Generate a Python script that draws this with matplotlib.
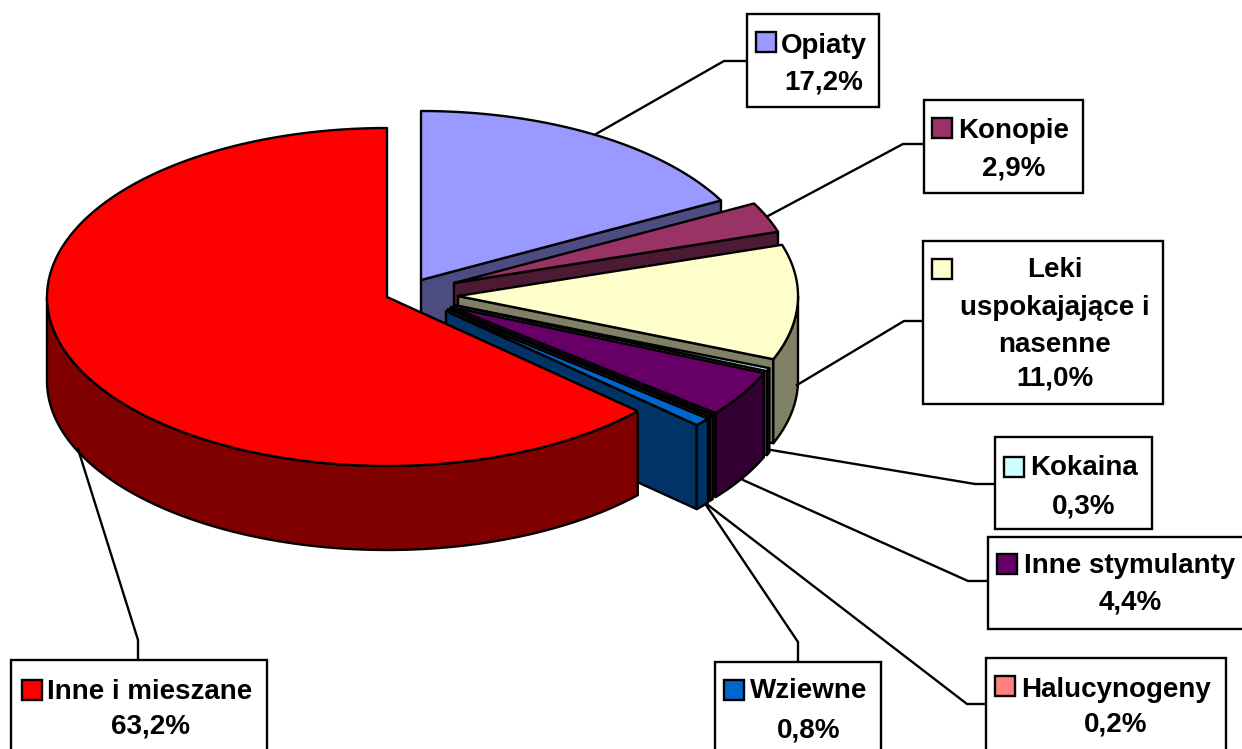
import numpy as np
import matplotlib
matplotlib.use("Agg")
import matplotlib.pyplot as plt
from matplotlib.patches import Polygon, Rectangle

# Data, clockwise from 12 o'clock
labels = ["Opiaty", "Konopie", "Leki\nuspokajające i\nnasenne", "Kokaina",
          "Inne stymulanty", "Halucynogeny", "Wziewne", "Inne i mieszane"]
values = [17.2, 2.9, 11.0, 0.3, 4.4, 0.2, 0.8, 63.2]

# Styles
top_colors = ["#9999FF", "#993366", "#FFFFCC", "#CCFFFF", "#660066", "#FF8080", "#0066CC", "#FF0000"]
side_colors = ["#4C4C80", "#4D1933", "#808066", "#668080", "#330033", "#804040", "#003366", "#800000"]

# Layout (pixel space)
CX, CY, RX, RY, DEPTH = 387, 297, 340, 169, 84
explode_dx = [34, 67, 71, 67, 64, 61, 59, 0]
explode_dy = [-17, -14, -1, 8, 10, 12, 14, 0]
boxes = [(747, 14, 879, 107), (924, 100, 1083, 193), (923, 241, 1163, 404), (995, 437, 1152, 529),
         (988, 537, 1246, 629), (986, 658, 1226, 756), (715, 662, 881, 756), (11, 660, 267, 756)]
keys = [(756, 32), (932, 118), (932, 259), (1004, 457), (997, 554), (995, 676), (724, 680), (22, 680)]
text_x = [824, 1014, 1055, 1084, 1130, 1116, 809, 150]
name_y = [[43], [128], [267, 305, 342], [465], [563], [687], [688], [689]]
pct_y = [79, 165, 376, 503, 600, 722, 727, 724]
leaders = [
    [(596, 134), (724, 61), (747, 61)],
    [(768, 216), (903, 144), (924, 144)],
    [(797, 385), (904, 321), (923, 321)],
    [(771, 450), (975, 484), (995, 484)],
    [(743, 480), (968, 581), (988, 581)],
    [(708, 505), (967, 704), (986, 704)],
    [(706, 505), (798, 642), (798, 662)],
    [(78, 449), (138, 640), (138, 660)],
]

LW = 1.7
plt.rcParams["font.family"] = ["Liberation Sans", "DejaVu Sans"]
fig = plt.figure(figsize=(12.42, 7.49), dpi=100, facecolor="white")
ax = fig.add_axes([0, 0, 1, 1])
ax.set_xlim(0, 1242)
ax.set_ylim(749, 0)
ax.axis("off")


def rim_points(cx, cy, a, b, n=120):
    t = np.radians(np.linspace(a, b, n))
    return np.column_stack([cx + RX * np.sin(t), cy - RY * np.cos(t)])


def poly(pts, fc, z):
    ax.add_patch(Polygon(pts, closed=True, facecolor=fc, edgecolor="black",
                         linewidth=LW, joinstyle="round", zorder=z))


edges = np.cumsum([0] + values) / sum(values) * 360
for i, v in enumerate(values):
    a, b = edges[i], edges[i + 1]
    cx, cy = CX + explode_dx[i], CY + explode_dy[i]
    z = 2 + i
    # cut face visible on the clockwise end of slices on the right half
    if b < 180:
        end = rim_points(cx, cy, b, b, 1)[0]
        poly([(cx, cy), end, (end[0], end[1] + DEPTH), (cx, cy + DEPTH)], side_colors[i], z)
    # outer wall, only the part that faces the viewer
    lo, hi = max(a, 90), min(b, 270)
    if hi > lo:
        arc = rim_points(cx, cy, lo, hi)
        low = arc[::-1] + np.array([0, DEPTH])
        poly(np.vstack([arc, low]), side_colors[i], z)
    # top surface
    poly(np.vstack([[(cx, cy)], rim_points(cx, cy, a, b)]), top_colors[i], z)

for i, lab in enumerate(labels):
    ax.plot(*zip(*leaders[i]), color="black", lw=LW, zorder=20, solid_joinstyle="miter")
    x0, y0, x1, y1 = boxes[i]
    ax.add_patch(Rectangle((x0, y0), x1 - x0, y1 - y0, facecolor="white", edgecolor="black",
                           linewidth=LW, zorder=21))
    kx, ky = keys[i]
    ax.add_patch(Rectangle((kx, ky), 20, 20, facecolor=top_colors[i], edgecolor="black",
                           linewidth=LW, zorder=22))
    for line, y in zip(lab.split("\n"), name_y[i]):
        ax.text(text_x[i], y, line, ha="center", va="center_baseline", fontsize=20,
                fontweight="bold", color="black", zorder=23)
    pct = f"{values[i]:.1f}%".replace(".", ",")
    ax.text(text_x[i], pct_y[i], pct, ha="center", va="center_baseline", fontsize=20,
            fontweight="bold", color="black", zorder=23)

fig.savefig("out.png", dpi=100)
